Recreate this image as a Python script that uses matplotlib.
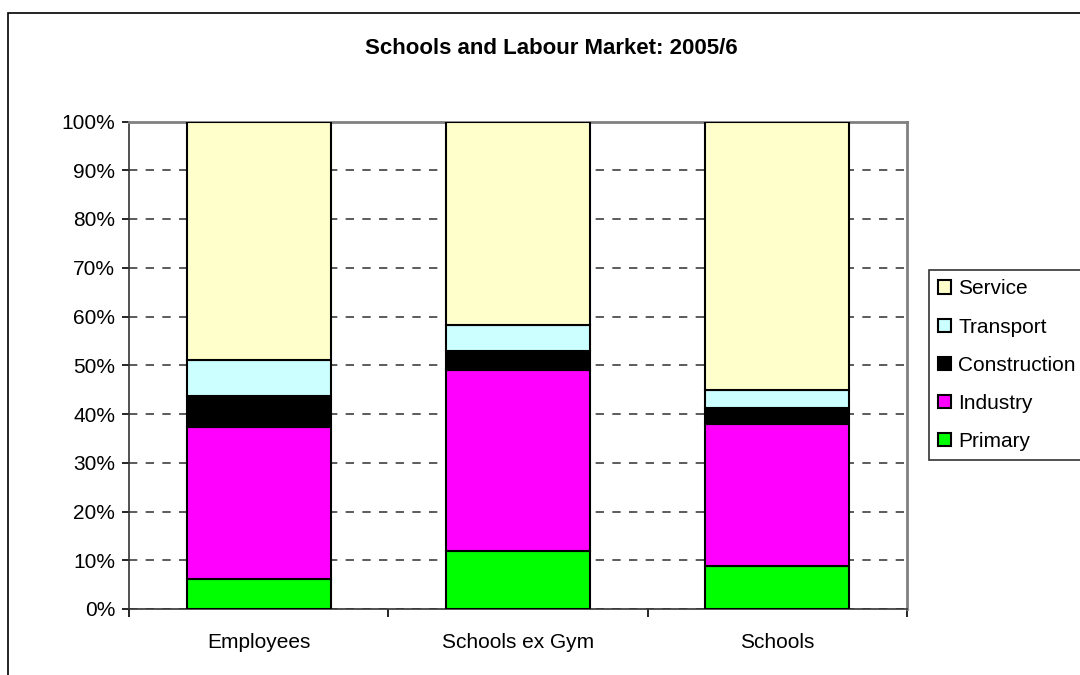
import numpy as np
import matplotlib
matplotlib.use("Agg")
import matplotlib.pyplot as plt
import matplotlib.patches as mpatches

plt.rcParams['font.family'] = ['Liberation Sans', 'DejaVu Sans']

groups = ["Employees", "Schools ex Gym", "Schools"]
sectors = ["Primary", "Industry", "Construction", "Transport", "Service"]
colours = ["#00FF00", "#FF00FF", "#000000", "#CCFFFF", "#FFFFCC"]

primary = [6.1, 11.8, 8.9]
industry = [31.3, 37.2, 29.0]
construction = [6.3, 4.0, 3.3]
transport = [7.3, 5.3, 3.8]
service = [49.0, 41.7, 55.0]

shares = [primary, industry, construction, transport, service]

fig = plt.figure(figsize=(10.8, 6.75), dpi=100)
ax = fig.add_axes([129 / 1080, 1 - 609 / 675, 778 / 1080, 487.5 / 675])

# outer chart frame, runs off the right and bottom edges
frame = mpatches.Rectangle((8 / 1080, -0.1), 1.2, 1 - 13 / 675 + 0.1,
                           transform=fig.transFigure, fill=False,
                           edgecolor="black", lw=1.2, clip_on=False)
fig.patches.append(frame)

x = np.arange(len(groups))
bottom = np.zeros(len(groups))
handles = []
for name, vals, col in zip(sectors, shares, colours):
    b = ax.bar(x, vals, width=0.555, bottom=bottom, color=col,
               edgecolor="black", linewidth=1.5, label=name, zorder=3)
    bottom += np.array(vals)
    handles.append(b)

ax.set_xlim(-0.5, len(groups) - 0.5)
ax.set_ylim(0, 100)
ax.set_yticks(np.arange(0, 101, 10))
ax.set_yticklabels([f"{v}%" for v in range(0, 101, 10)], fontsize=15)
ax.yaxis.grid(True, linestyle=(0, (5, 5)), color="#404040", lw=1.2, zorder=0)

# category labels between boundary ticks
ax.set_xticks(np.arange(-0.5, len(groups), 1.0))
ax.set_xticklabels([])
ax.set_xticks(x, minor=True)
ax.set_xticklabels(groups, minor=True, fontsize=15)
ax.tick_params(axis="x", which="minor", length=0, pad=17)
ax.tick_params(axis="x", which="major", length=6, width=1.2, direction="out")
ax.tick_params(axis="y", length=5, width=1.2, direction="out", pad=5)

for side in ["top", "right"]:
    ax.spines[side].set_color("#808080")
    ax.spines[side].set_linewidth(2)
for side in ["left", "bottom"]:
    ax.spines[side].set_color("#333333")
    ax.spines[side].set_linewidth(1.2)

fig.text(551 / 1080, 1 - 48 / 675, "Schools and Labour Market: 2005/6",
         ha="center", va="center", fontsize=16, fontweight="bold")

leg = fig.legend(handles[::-1], sectors[::-1], loc="upper left",
                 bbox_to_anchor=(929 / 1080, 1 - 270 / 675),
                 fontsize=15, frameon=True, fancybox=False,
                 edgecolor="black", handlelength=0.6, handleheight=0.6,
                 handletextpad=0.35, labelspacing=0.92, borderpad=0.45,
                 borderaxespad=0)
leg.get_frame().set_linewidth(1.2)

fig.savefig("out.png", dpi=100)
